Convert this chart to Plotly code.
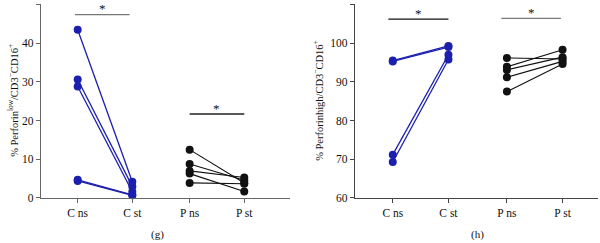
import plotly.graph_objects as go

categories = ["C ns", "C st", "P ns", "P st"]
cat_pos = [0, 1, 2.05, 3.05]

# Panel (g): Perforin low
g_c_ns = [43.5, 30.6, 28.8, 4.7, 4.4]
g_c_st = [4.2, 3.0, 1.6, 0.8, 0.7]
g_p_ns = [12.5, 8.8, 7.0, 6.3, 3.9]
g_p_st = [3.9, 4.6, 5.3, 1.7, 3.7]

# Panel (h): Perforin high
h_c_ns = [95.5, 95.3, 71.2, 69.3]
h_c_st = [99.3, 99.0, 97.0, 95.8]
h_p_ns = [96.2, 93.9, 93.1, 91.2, 87.5]
h_p_st = [95.9, 98.3, 96.4, 95.3, 94.6]

BLUE = "#1c1fae"
BLACK = "#111111"
SERIF = "Liberation Serif"

fig = go.Figure()

def add_pairs(a, b, xa, xb, color, width, xaxis, yaxis):
    for va, vb in zip(a, b):
        fig.add_trace(go.Scatter(
            x=[xa, xb], y=[va, vb], mode="lines+markers",
            line=dict(color=color, width=width),
            marker=dict(color=color, size=8),
            xaxis=xaxis, yaxis=yaxis, showlegend=False, cliponaxis=False,
            hoverinfo="skip"))

add_pairs(g_c_ns, g_c_st, cat_pos[0], cat_pos[1], BLUE, 1.3, "x", "y")
add_pairs(g_p_ns, g_p_st, cat_pos[2], cat_pos[3], BLACK, 1.1, "x", "y")
add_pairs(h_c_ns, h_c_st, cat_pos[0], cat_pos[1], BLUE, 1.3, "x2", "y2")
add_pairs(h_p_ns, h_p_st, cat_pos[2], cat_pos[3], BLACK, 1.1, "x2", "y2")

# significance bars
sig = [
    ("x", "y", -0.05, 0.95, 47.4, "#777777"),
    ("x", "y", 2.05, 3.05, 21.7, "#222222"),
    ("x2", "y2", -0.08, 1.0, 106.2, "#111111"),
    ("x2", "y2", 1.95, 3.02, 106.4, "#777777"),
]
for xr, yr, x0, x1, yv, col in sig:
    fig.add_trace(go.Scatter(x=[x0, x1], y=[yv, yv], mode="lines",
                             line=dict(color=col, width=1.3),
                             xaxis=xr, yaxis=yr, showlegend=False,
                             cliponaxis=False, hoverinfo="skip"))
    fig.add_annotation(x=(x0 + x1) / 2, y=yv, xref=xr, yref=yr, text="*",
                       showarrow=False, yanchor="middle", xanchor="center",
                       yshift=6,
                       font=dict(family=SERIF, size=13, color="#111"))

ydom = [0.1852, 0.9815]
axis_common = dict(showline=True, linewidth=1.3, ticks="outside", ticklen=4,
                   showgrid=False, zeroline=False, automargin=False,
                   tickfont=dict(family=SERIF, size=11.5, color="#111"))

fig.update_layout(
    template="none",
    width=600, height=243, margin=dict(l=0, r=0, t=0, b=0, autoexpand=False),
    plot_bgcolor="white", paper_bgcolor="white",
    xaxis=dict(domain=[0.0683, 0.4833], range=[-0.672, 3.887],
               tickvals=cat_pos, ticktext=categories, anchor="y",
               linecolor="#666", tickcolor="#666", **axis_common),
    yaxis=dict(domain=ydom, range=[0, 50], tickvals=[0, 10, 20, 30, 40, 50],
               anchor="x", linecolor="#666", tickcolor="#666", **axis_common),
    xaxis2=dict(domain=[0.5917, 0.997], range=[-0.678, 3.69],
                tickvals=cat_pos, ticktext=categories, anchor="y2",
                linecolor="#444", tickcolor="#444", **axis_common),
    yaxis2=dict(domain=ydom, range=[60, 110],
                tickvals=[60, 70, 80, 90, 100, 110], anchor="x2",
                linecolor="#444", tickcolor="#444", **axis_common),
)

fig.add_annotation(x=13 / 600, y=0.585, xref="paper", yref="paper",
                   xanchor="center", yanchor="middle",
                   text="% Perforin<sup>low</sup>/CD3<sup>−</sup>CD16<sup>+</sup>",
                   textangle=-90, showarrow=False,
                   font=dict(family=SERIF, size=10.5, color="#111"))
fig.add_annotation(x=318 / 600, y=0.585, xref="paper", yref="paper",
                   xanchor="center", yanchor="middle",
                   text="% Perforinhigh/CD3<sup>−</sup>CD16<sup>+</sup>",
                   textangle=-90, showarrow=False,
                   font=dict(family=SERIF, size=10.5, color="#111"))
fig.add_annotation(x=158 / 600, y=0, xref="paper", yref="paper",
                   text="(g)", showarrow=False, yanchor="bottom",
                   xanchor="center",
                   font=dict(family=SERIF, size=11, color="#111"))
fig.add_annotation(x=477 / 600, y=0, xref="paper", yref="paper",
                   text="(h)", showarrow=False, yanchor="bottom",
                   xanchor="center",
                   font=dict(family=SERIF, size=11, color="#111"))

fig.write_html("out.html")
